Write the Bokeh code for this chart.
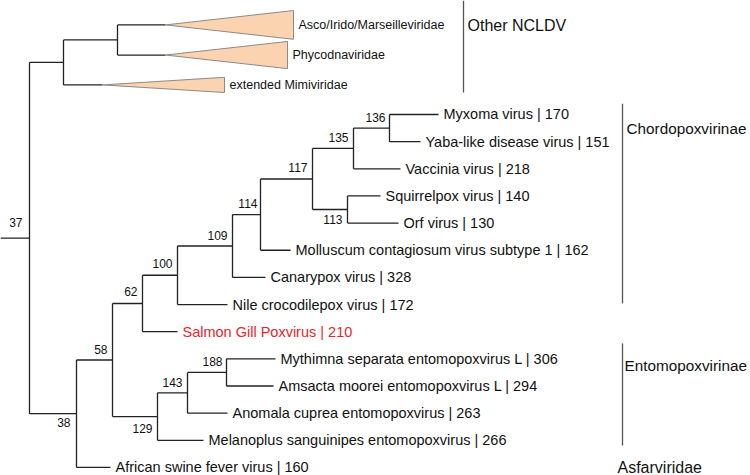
from bokeh.plotting import figure
from bokeh.models import Range1d, ColumnDataSource
from bokeh.embed import file_html
from bokeh.resources import INLINE
from bokeh.core.properties import value

FONT = "Liberation Sans"

# ---------------- data ----------------
# internal nodes: id, parent, depth (distance from root, drawn units), bootstrap support
node_id = ["root", "ncldv", "asco_phyco", "n38", "n58", "n62", "n100", "n109",
           "n114", "n117", "n135", "n136", "n113", "n129", "n143", "n188"]
node_parent = [None, "root", "ncldv", "root", "n38", "n58", "n62", "n100",
               "n109", "n114", "n117", "n135", "n117", "n58", "n129", "n143"]
node_depth = [0, 34, 88, 47, 83, 113, 148, 203, 231, 283, 324, 360, 318, 128, 158, 197]
node_support = ["37", "", "", "38", "58", "62", "100", "109", "114", "117",
                "135", "136", "113", "129", "143", "188"]
support_dy = [-16, 0, 0, 9, -11, -12, -12, -11, -11, -11, -11, -11, 10, 12, -10, -11]
support_dx = [-7, 0, 0, -6, -5, -5, -5, -5, -3, -5, -5, -4, -5, -5, -5, -4]
root_stub = 29

# leaves (top to bottom)
leaf_id = ["asco", "phyco", "mimi", "myxoma", "yaba", "vaccinia", "squirrel", "orf",
           "molluscum", "canary", "nile", "salmon", "mythimna", "amsacta", "anomala",
           "melanoplus", "asfv"]
leaf_parent = ["asco_phyco", "asco_phyco", "ncldv", "n136", "n136", "n135", "n113", "n113",
               "n114", "n109", "n100", "n62", "n188", "n188", "n143", "n129", "n38"]
leaf_depth = [136, 136, 73, 409, 391, 371, 351, 369, 261, 236, 198, 148, 246, 244,
              198, 174, 81]
leaf_row = [-3.3, -2.19, -1.09, 0, 1, 2, 3, 4, 5, 6, 7, 8, 9, 10, 11, 12, 13]
leaf_label = ["Asco/Irido/Marseilleviridae", "Phycodnaviridae", "extended Mimiviridae",
              "Myxoma virus | 170", "Yaba-like disease virus | 151", "Vaccinia virus | 218",
              "Squirrelpox virus | 140", "Orf virus | 130",
              "Molluscum contagiosum virus subtype 1 | 162", "Canarypox virus | 328",
              "Nile crocodilepox virus | 172", "Salmon Gill Poxvirus | 210",
              "Mythimna separata entomopoxvirus L | 306", "Amsacta moorei entomopoxvirus L | 294",
              "Anomala cuprea entomopoxvirus | 263", "Melanoplus sanguinipes entomopoxvirus | 266",
              "African swine fever virus | 160"]
leaf_color = ["#111111"] * 11 + ["#e8252b"] + ["#111111"] * 5

# collapsed clades (triangles)
collapsed_leaf = ["asco", "phyco", "mimi"]
collapsed_base_depth = [264, 258, 195]
collapsed_half_rows = [0.53, 0.5, 0.28]

# clade brackets on the right
clade_name = ["Other NCLDV", "Chordopoxvirinae", "Entomopoxvirinae", "Asfarviridae"]
clade_font = ["16px", "15.3px", "15.3px", "16px"]
clade_bar_depth = [434, 593, 593, None]
clade_bar_rows = [(-4.2, -0.81), (-0.4, 6.96), (8.43, 12.19), None]
clade_label_depth = [438, 597, 595, 588]
clade_label_row = [-3.28, 0.5, 9.25, 13.0]

# ---------------- layout of the tree ----------------
depth = dict(zip(node_id, node_depth))
depth.update(dict(zip(leaf_id, leaf_depth)))
parent = dict(zip(node_id, node_parent))
parent.update(dict(zip(leaf_id, leaf_parent)))
children = {n: [] for n in node_id}
for c in node_id + leaf_id:
    if parent[c] is not None:
        children[parent[c]].append(c)
row = dict(zip(leaf_id, leaf_row))


def get_row(n):
    if n in row:
        return row[n]
    rs = [get_row(c) for c in children[n]]
    row[n] = (min(rs) + max(rs)) / 2.0
    return row[n]


get_row("root")

x0, y0, x1, y1 = [], [], [], []
# root stub
x0.append(-root_stub); x1.append(0); y0.append(row["root"]); y1.append(row["root"])
for n in node_id + leaf_id:
    p_ = parent[n]
    if p_ is not None:
        x0.append(depth[p_]); x1.append(depth[n]); y0.append(row[n]); y1.append(row[n])
for n in node_id:
    rs = [row[c] for c in children[n]]
    x0.append(depth[n]); x1.append(depth[n]); y0.append(min(rs)); y1.append(max(rs))

# ---------------- figure ----------------
p = figure(width=750, height=475, output_backend="svg", toolbar_location=None,
           x_range=Range1d(-29, 721), y_range=Range1d(13.297, -4.199),
           min_border=0)
p.axis.visible = False
p.grid.visible = False
p.outline_line_color = None
p.background_fill_color = "white"

p.segment(x0=x0, y0=y0, x1=x1, y1=y1, line_color="#222222", line_width=1.3)

# triangles
tri_xs, tri_ys = [], []
for lid, bd, hr in zip(collapsed_leaf, collapsed_base_depth, collapsed_half_rows):
    r = row[lid]
    tri_xs.append([depth[lid], bd, bd])
    tri_ys.append([r, r - hr, r + hr])
p.patches(xs=tri_xs, ys=tri_ys, fill_color="#fbd3b0", line_color="#8a8a8a", line_width=1)

# leaf labels
lab_x, lab_y, lab_t, lab_c, lab_fs = [], [], [], [], []
base_of = dict(zip(collapsed_leaf, collapsed_base_depth))
for lid, txt, col in zip(leaf_id, leaf_label, leaf_color):
    lab_x.append(base_of.get(lid, depth[lid]))
    lab_y.append(row[lid])
    lab_t.append(txt)
    lab_c.append(col)
    lab_fs.append("12.5px" if lid in base_of else "14.5px")
src = ColumnDataSource(dict(x=lab_x, y=lab_y, t=lab_t, c=lab_c, fs=lab_fs))
p.text(x="x", y="y", text="t", source=src, text_color="c", text_font_size="fs",
       text_font=value(FONT), text_baseline="middle", text_align="left", x_offset=5)

# bootstrap supports
sx, sy, st, sdx, sdy = [], [], [], [], []
for n, s, dx, dy in zip(node_id, node_support, support_dx, support_dy):
    if s:
        sx.append(depth[n]); sy.append(row[n]); st.append(s); sdx.append(dx); sdy.append(dy)
ssrc = ColumnDataSource(dict(x=sx, y=sy, t=st, dx=sdx, dy=sdy))
p.text(x="x", y="y", text="t", source=ssrc, x_offset="dx", y_offset="dy",
       text_font_size="12px", text_font=value(FONT), text_color="#111111",
       text_baseline="middle", text_align="right")

# clade brackets
bx0, by0, bx1, by1 = [], [], [], []
for d, rr in zip(clade_bar_depth, clade_bar_rows):
    if d is not None:
        bx0.append(d); bx1.append(d); by0.append(rr[0]); by1.append(rr[1])
p.segment(x0=bx0, y0=by0, x1=bx1, y1=by1, line_color="#555555", line_width=1.3)
csrc = ColumnDataSource(dict(x=clade_label_depth, y=clade_label_row, t=clade_name, fs=clade_font))
p.text(x="x", y="y", text="t", source=csrc, text_font_size="fs",
       text_font=value(FONT), text_color="#111111",
       text_baseline="middle", text_align="left")

open("out.html", "w").write(file_html(p, INLINE))
